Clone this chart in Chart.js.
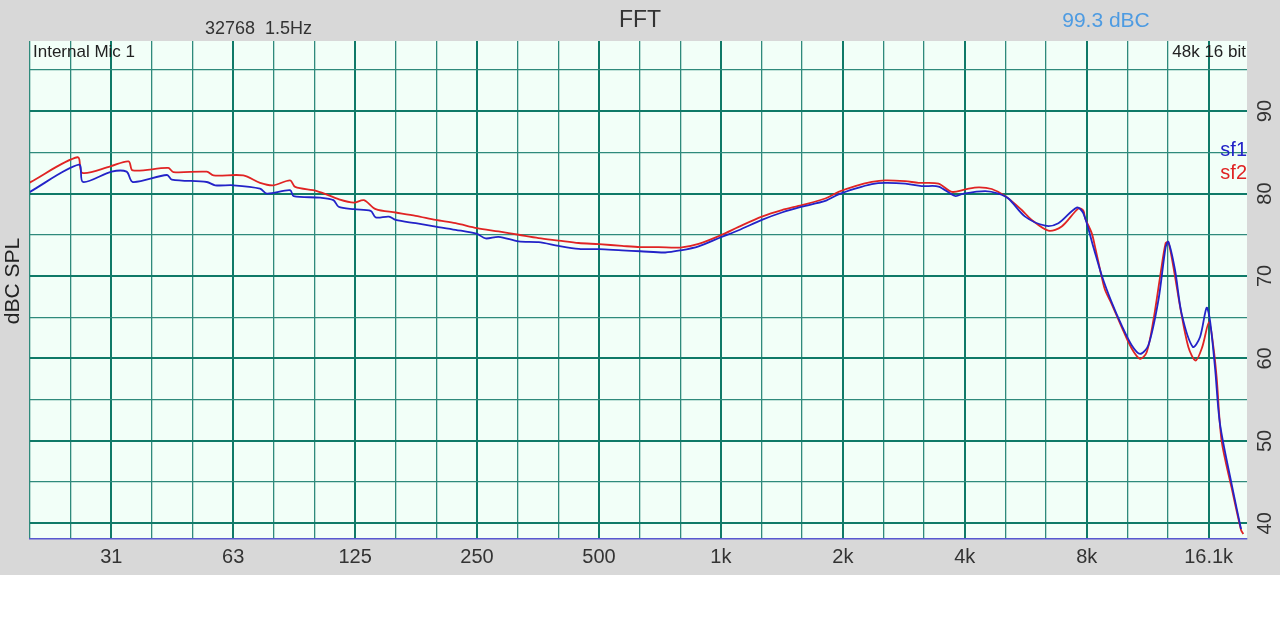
<!DOCTYPE html>
<html>
<head>
<meta charset="utf-8">
<script src="https://cdn.jsdelivr.net/npm/chart.js@4"></script>
<style>
  html, body { margin: 0; padding: 0; background: #ffffff; }
  #wrap { width: 1280px; height: 575px; background: #d8d8d8; }
</style>
</head>
<body>
<div id="wrap"><canvas id="fft" width="1280" height="575"></canvas></div>
<script>
// frequency response readings (Hz / dBC SPL)
const sf1Freq = [19.6, 26.0, 26.6, 31.3, 34.1, 35.3, 42.9, 44.1, 53.8, 56.4, 62.6, 72.8, 75.7, 86.4, 88.1, 102.5, 110.5, 113.8, 124.2, 136.6,
  140.5, 151.5, 157.4, 176.4, 197.6, 221.3, 250, 262.5, 282.6, 316.7, 354.8, 397.6, 445.5, 500, 569.9, 632.4, 729, 794, 881, 1000,
  1106, 1262, 1414, 1584, 1810, 1952, 2146, 2358, 2545, 2851, 3133, 3445, 3787, 3971, 4491, 4844, 5127, 5638, 6316, 6812,
  7559, 7852, 8311, 8711, 9222, 9760, 10331, 10837, 11360, 12025, 12533, 12727, 13221, 13726, 14622, 15238, 15819, 16126, 16589, 17066,
  18235, 19237];
const sf1Level = [80.15, 83.5, 81.4, 82.65, 82.65, 81.4, 82.25, 81.7, 81.4, 81.0, 81.0, 80.6, 80.0, 80.4, 79.7, 79.5, 79.2, 78.4, 78.1, 77.9,
  77.1, 77.2, 76.8, 76.4, 76.0, 75.6, 75.1, 74.55, 74.75, 74.2, 74.1, 73.65, 73.3, 73.25, 73.1, 73.0, 72.85, 73.1, 73.6, 74.7,
  75.55, 76.8, 77.7, 78.4, 79.1, 79.9, 80.6, 81.15, 81.3, 81.2, 80.9, 80.85, 79.7, 80.0, 80.3, 80.0, 79.4, 77.2, 76.1, 76.4,
  78.3, 77.6, 73.5, 70.1, 66.8, 64.0, 61.6, 60.55, 61.6, 67.05, 73.5, 74.15, 70.7, 65.4, 61.4, 62.6, 66.15, 64.6, 58.9, 52.05,
  44.75, 39.3];

const sf2Freq = [19.6, 25.8, 26.5, 31.1, 34.5, 35.3, 43.2, 44.5, 53.8, 55.9, 66.2, 72.8, 78.6, 86.4, 88.9, 100.6, 114.1, 124.2, 131.4, 140.5,
  157.4, 176.4, 197.6, 221.3, 250, 282.6, 316.7, 354.8, 397.6, 445.5, 500, 569.9, 632.4, 701.6, 794, 881, 1000, 1106, 1262, 1414,
  1584, 1810, 1952, 2146, 2358, 2545, 2851, 3075, 3445, 3715, 4009, 4324, 4663, 5032, 5530, 5853, 6435, 6940, 7640, 7852,
  7928, 8231, 8392, 8711, 8881, 9222, 9760, 10331, 10837, 11251, 11686, 12142, 12533, 12727, 13094, 13603, 14258, 14858, 15434, 16036,
  16439, 16745, 17227, 18235, 19237, 19488];
const sf2Level = [81.3, 84.4, 82.5, 83.3, 83.9, 82.8, 83.1, 82.6, 82.65, 82.2, 82.2, 81.3, 81.0, 81.6, 80.8, 80.3, 79.3, 78.9, 79.2, 78.1,
  77.7, 77.3, 76.8, 76.4, 75.8, 75.4, 75.0, 74.6, 74.3, 74.0, 73.86, 73.65, 73.5, 73.5, 73.45, 73.9, 74.95, 75.96, 77.2, 78.0,
  78.6, 79.4, 80.2, 80.9, 81.4, 81.6, 81.5, 81.3, 81.2, 80.2, 80.5, 80.75, 80.55, 79.7, 78.0, 76.8, 75.5, 76.0, 78.2, 77.9,
  77.0, 75.2, 73.5, 69.9, 68.3, 66.6, 63.8, 61.2, 59.95, 60.75, 64.6, 69.9, 74.0, 74.1, 71.1, 66.3, 61.4, 59.75, 61.4, 64.4,
  61.4, 57.7, 50.0, 44.3, 39.2, 38.7];

// axis grid / labels
const gridFreqs = [19.69, 24.8, 31.25, 39.37, 49.6, 62.5, 78.75, 99.2, 125, 157.5, 198.4, 250, 315, 396.9, 500, 630, 793.7,
  1000, 1260, 1587, 2000, 2520, 3175, 4000, 5040, 6350, 8000, 10079, 12699, 16000];
const octaveFreqs = [31.25, 62.5, 125, 250, 500, 1000, 2000, 4000, 8000, 16000];
const octaveLabels = ['31', '63', '125', '250', '500', '1k', '2k', '4k', '8k', '16.1k'];
const levelGrid = [40, 45, 50, 55, 60, 65, 70, 75, 80, 85, 90, 95];
const levelLabels = [40, 50, 60, 70, 80, 90];

const toPoints = (fs, ls) => fs.map((f, i) => ({ x: f, y: ls[i] }));
const isOctave = v => octaveFreqs.some(f => Math.abs(f - v) < 0.5);

const FONT = '"Liberation Sans", Arial, sans-serif';

const plotBg = {
  id: 'plotBg',
  beforeDraw(chart) {
    const { ctx, chartArea: a } = chart;
    ctx.save();
    ctx.fillStyle = '#f2fff8';
    ctx.fillRect(a.left, a.top, a.right - a.left, a.bottom - a.top);
    ctx.restore();
  }
};

const labels = {
  id: 'fftLabels',
  afterDraw(chart) {
    const { ctx, chartArea: a } = chart;
    const yScale = chart.scales.y;
    ctx.save();

    // header row
    ctx.textBaseline = 'middle';
    ctx.fillStyle = '#333333';
    ctx.font = '18px ' + FONT;
    ctx.textAlign = 'left';
    ctx.fillText('32768  1.5Hz', 205, 29);
    ctx.font = '23px ' + FONT;
    ctx.textAlign = 'center';
    ctx.fillText('FFT', 640, 21);
    ctx.fillStyle = '#4d9be2';
    ctx.font = '21px ' + FONT;
    ctx.fillText('99.3 dBC', 1106, 21);

    // inside the plot
    ctx.fillStyle = '#222222';
    ctx.font = '17px ' + FONT;
    ctx.textAlign = 'left';
    ctx.fillText('Internal Mic 1', a.left + 3, a.top + 11);
    ctx.textAlign = 'right';
    ctx.fillText('48k 16 bit', a.right - 1, a.top + 11);

    // series names
    ctx.font = '20px ' + FONT;
    chart.data.datasets.forEach((ds, i) => {
      ctx.fillStyle = ds.borderColor;
      ctx.fillText(ds.label, a.right, 150 + i * 23);
    });

    // right-hand level labels, rotated
    ctx.fillStyle = '#333333';
    ctx.font = '20px ' + FONT;
    ctx.textAlign = 'center';
    levelLabels.forEach(v => {
      ctx.save();
      ctx.translate(1265, yScale.getPixelForValue(v));
      ctx.rotate(-Math.PI / 2);
      ctx.fillText(String(v), 0, 0);
      ctx.restore();
    });

    // axis title
    ctx.save();
    ctx.translate(13, 281);
    ctx.rotate(-Math.PI / 2);
    ctx.fillStyle = '#222222';
    ctx.font = '21px ' + FONT;
    ctx.fillText('dBC SPL', 0, 0);
    ctx.restore();

    ctx.restore();
  }
};

new Chart(document.getElementById('fft'), {
  type: 'line',
  data: {
    datasets: [
      {
        label: 'sf1',
        data: toPoints(sf1Freq, sf1Level),
        borderColor: '#2323c8',
        borderWidth: 1.8,
        pointRadius: 0,
        tension: 0.3
      },
      {
        label: 'sf2',
        data: toPoints(sf2Freq, sf2Level),
        borderColor: '#e02424',
        borderWidth: 1.8,
        pointRadius: 0,
        tension: 0.3
      }
    ]
  },
  options: {
    responsive: false,
    animation: false,
    layout: { padding: { left: 30, right: 33, top: 41, bottom: 0 } },
    plugins: {
      legend: { display: false },
      tooltip: { enabled: false }
    },
    scales: {
      x: {
        type: 'logarithmic',
        min: 19.69,
        max: 19900,
        afterBuildTicks: scale => { scale.ticks = gridFreqs.map(v => ({ value: v })); },
        ticks: {
          autoSkip: false,
          maxRotation: 0,
          padding: 6,
          color: '#333333',
          font: { family: FONT, size: 20 },
          callback: value => {
            const i = octaveFreqs.findIndex(f => Math.abs(f - value) < 0.5);
            return i >= 0 ? octaveLabels[i] : '';
          }
        },
        grid: {
          drawTicks: false,
          color: ctx => isOctave(ctx.tick.value) ? '#0f7a68' : '#2f8a7c',
          lineWidth: ctx => isOctave(ctx.tick.value) ? 2 : 1.3
        },
        border: { display: true, color: '#5858d0', width: 1.5 }
      },
      y: {
        type: 'linear',
        position: 'right',
        min: 38.1,
        max: 98.5,
        afterBuildTicks: scale => { scale.ticks = levelGrid.map(v => ({ value: v })); },
        ticks: { display: false },
        grid: {
          drawTicks: false,
          color: ctx => ctx.tick.value % 10 === 0 ? '#0f7a68' : '#2f8a7c',
          lineWidth: ctx => ctx.tick.value % 10 === 0 ? 2 : 1.3
        },
        border: { display: false }
      }
    }
  },
  plugins: [plotBg, labels]
});
</script>
</body>
</html>
